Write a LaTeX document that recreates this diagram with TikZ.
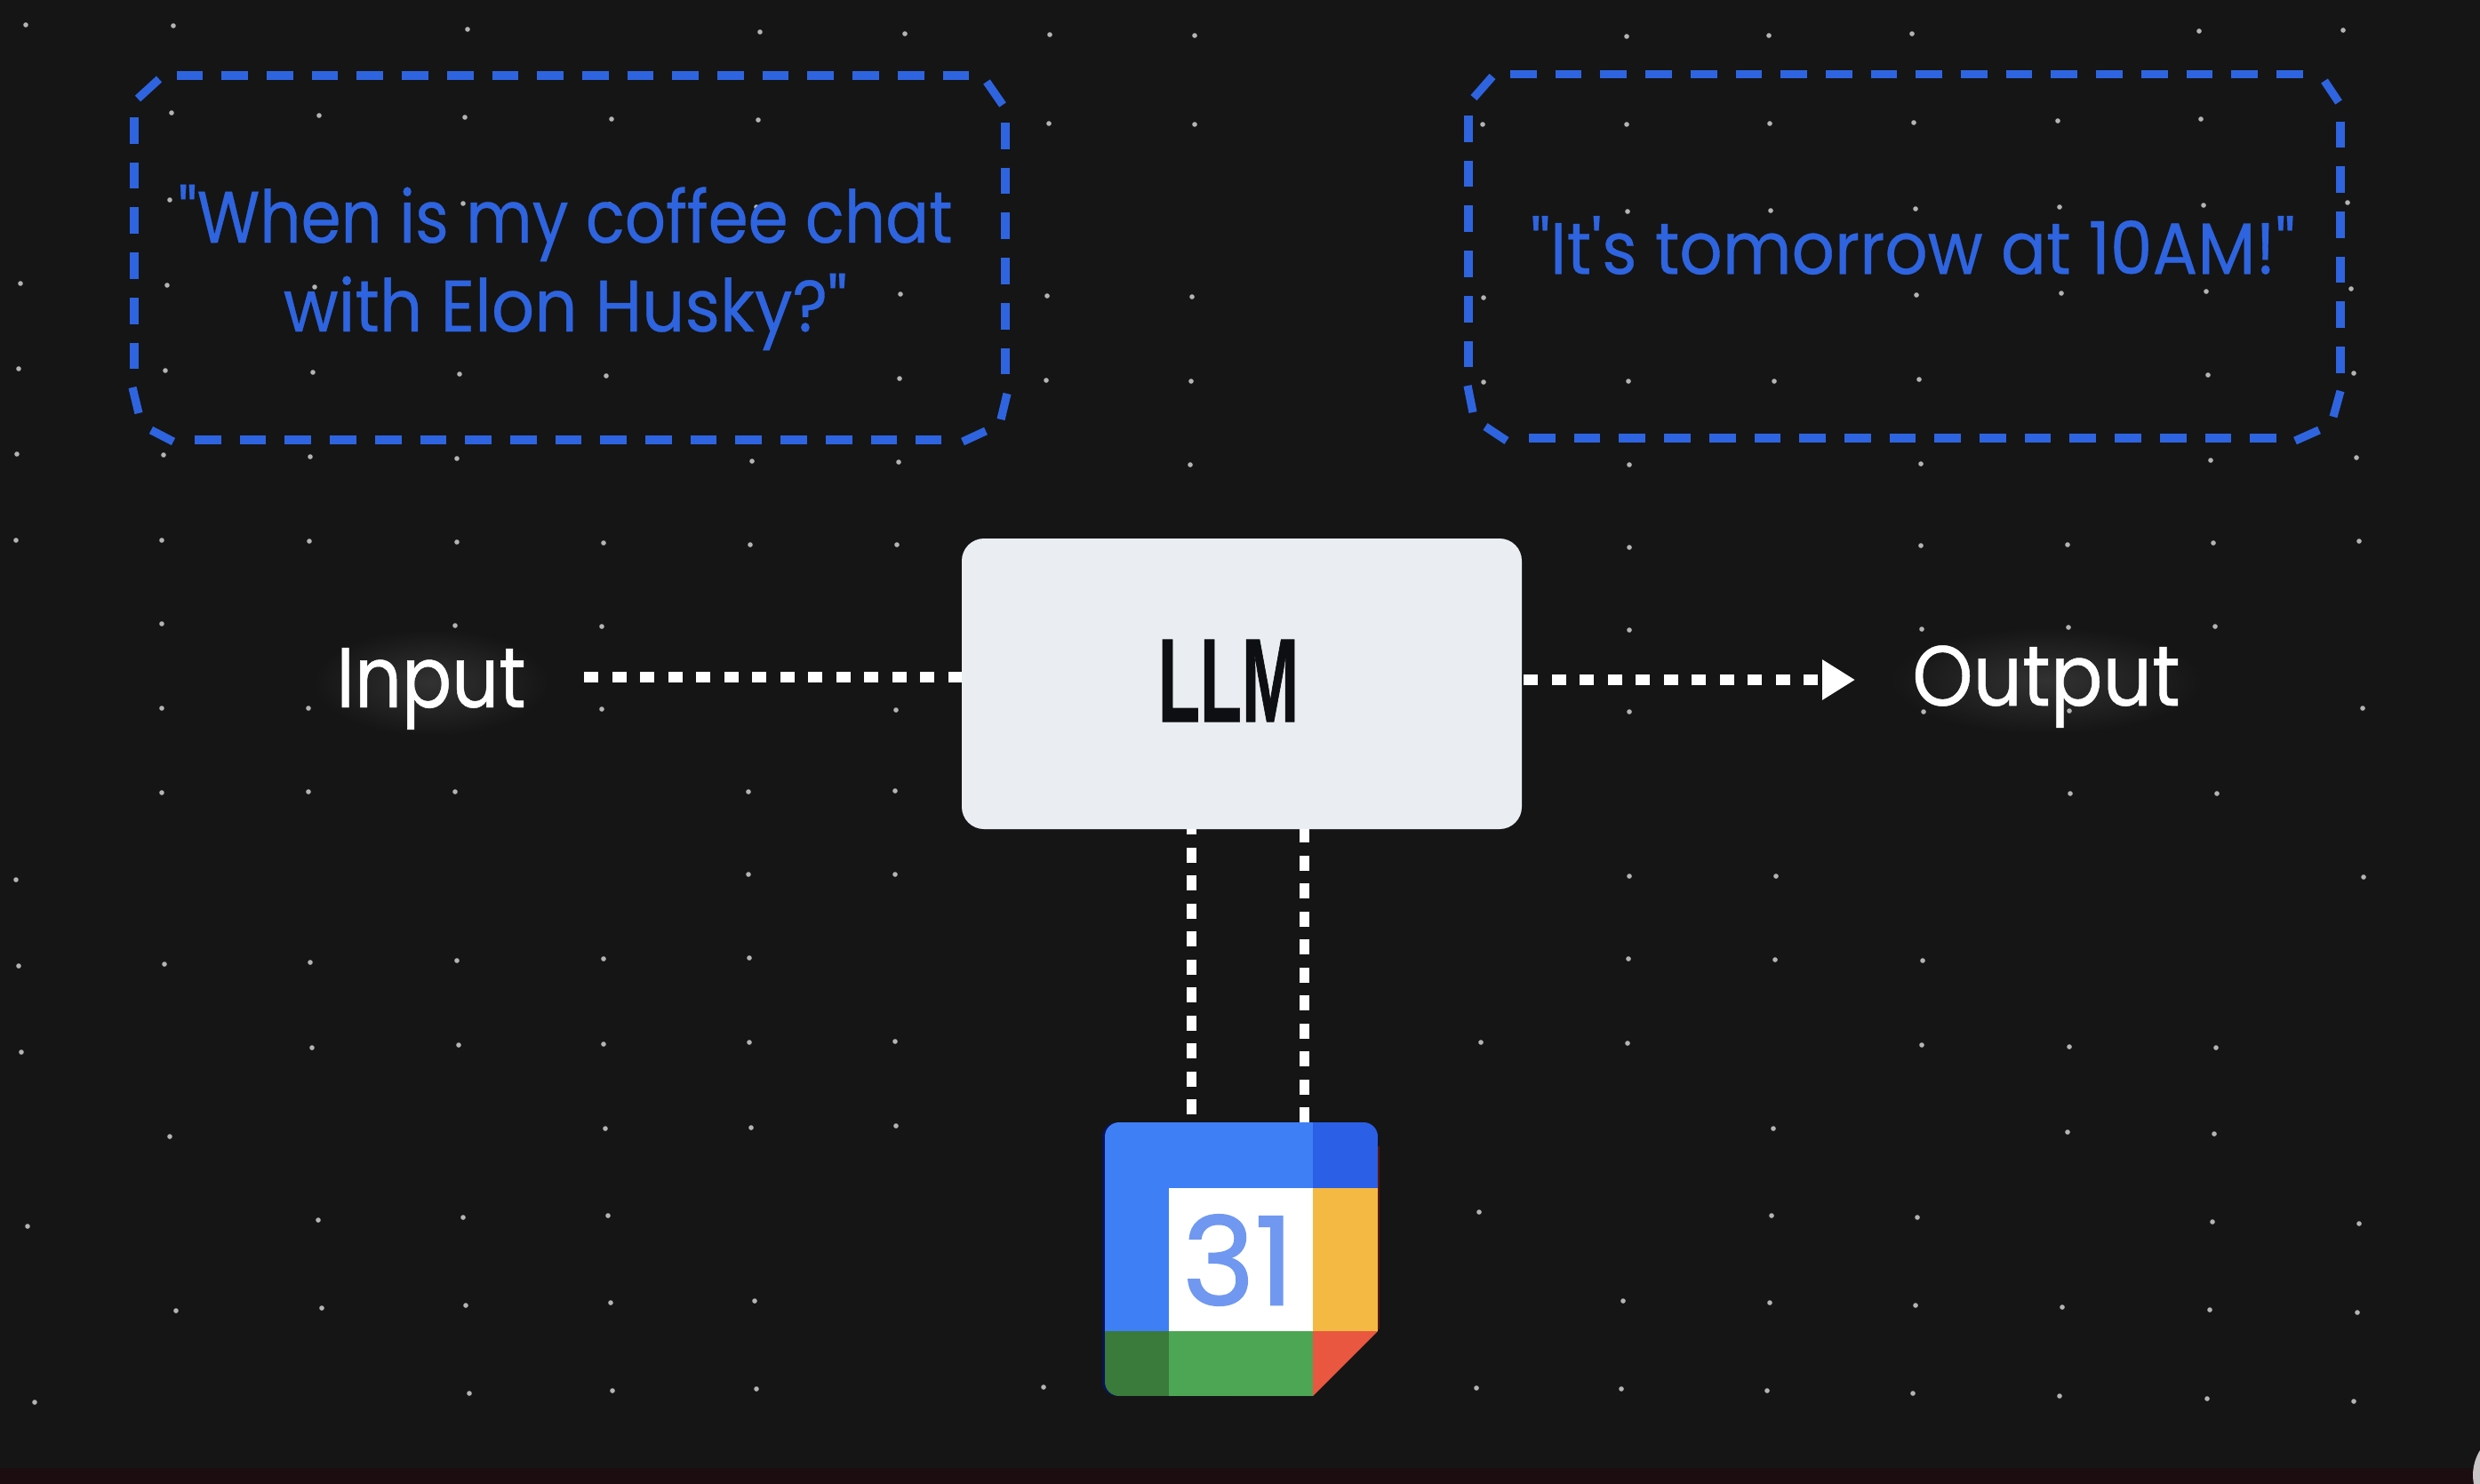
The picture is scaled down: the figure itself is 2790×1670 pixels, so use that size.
\documentclass[tikz,border=0pt]{standalone}
\usepackage{fontspec}
\usepackage{graphicx}
\usetikzlibrary{arrows.meta,calc}
\setmainfont{Poppins}[Ligatures=TeXOff]
\newfontfamily\speechfont{Poppins}[FakeStretch=0.883,FakeBold=0.4,Ligatures=TeXOff]
\newfontfamily\answerfont{Poppins}[FakeStretch=0.922,FakeBold=0.4,Ligatures=TeXOff]
\newfontfamily\labelfont{Poppins}[FakeStretch=0.865,FakeBold=0.5,Ligatures=TeXOff]
\newfontfamily\outputfont{Poppins}[FakeStretch=0.905,FakeBold=0.5,Ligatures=TeXOff]
\newfontfamily\numfont{Poppins}[FakeBold=1.3]
\newfontfamily\llmfont{Liberation Sans}[FakeBold=0.8]
\definecolor{bg}{HTML}{151515}
\definecolor{strip}{HTML}{1C0E10}
\definecolor{stardot}{HTML}{B4B4B4}
\definecolor{gblue}{HTML}{3F7FF6}
\definecolor{gbluedark}{HTML}{2A5FE6}
\definecolor{gyellow}{HTML}{F4B942}
\definecolor{ggreen}{HTML}{4DA653}
\definecolor{ggreendark}{HTML}{3A7A3A}
\definecolor{gred}{HTML}{EA5740}
\definecolor{numblue}{HTML}{7098F0}
\definecolor{dashblue}{HTML}{2E64DF}
\definecolor{llmfill}{HTML}{EAEEF2}
\definecolor{llmink}{HTML}{0D0F12}
\definecolor{halo}{HTML}{323232}
\definecolor{cornerdisc}{HTML}{C9C5C7}
\definecolor{fringeblue}{HTML}{0A145A}
\definecolor{fringered}{HTML}{5A160C}
\tikzset{
  x=0.5pt,y=-0.5pt,
  speechcorner/.style={draw=dashblue,line width=4.6pt},
  speechside/.style={speechcorner,dash pattern=on 14.85pt off 10.5pt},
  speechtext/.style={text=dashblue,font=\speechfont\fontsize{41pt}{50pt}\selectfont,align=center,inner sep=0pt},
  flowtext/.style={text=white,font=\labelfont\fontsize{48pt}{58pt}\selectfont,inner sep=0pt,anchor=base},
  flow/.style={draw=white,line width=6.2pt,dash pattern=on 8pt off 7.75pt},
  vflow/.style={draw=white,line width=5.5pt,dash pattern=on 8.5pt off 7.25pt},
}
\begin{document}
\begin{tikzpicture}
\useasboundingbox (0,0) rectangle (2790,1670);
\clip (0,0) rectangle (2790,1670);
\fill[bg] (0,0) rectangle (2790,1670);
\fill[strip] (0,1652) rectangle (2790,1670);
\fill[cornerdisc] (2835,1660) circle [radius=26.5pt];
% glow behind the plain labels
\shade[inner color=halo,outer color=bg] (485,768) ellipse [x radius=66pt,y radius=30pt];
\shade[inner color=halo,outer color=bg] (2302,766) ellipse [x radius=88pt,y radius=30pt];
% background stars
\foreach \px/\py in {
29/28,195/29,526/33,855/36,1018/38,193/127,359/130,523/132,688/134,853/135,
191/225,521/229,686/230,851/233,23/319,188/321,354/323,1013/331,21/415,186/417,352/419,517/421,682/423,1012/426,
19/511,184/512,349/514,514/516,846/519,1011/520,
1181/39,1344/40,1830/41,1990/40,2151/38,2474/35,2636/34,1180/139,1344/140,1668/140,1830/140,1991/139,2153/138,2315/136,2476/134,
1831/238,1992/237,2155/235,2317/233,2479/231,2641/228,1178/333,1341/334,1669/335,2156/332,2319/330,2482/328,2645/325,
1177/428,1340/429,1669/430,1832/429,1996/429,2159/427,2484/422,2648/420,1339/523,1833/523,2161/522,2487/518,2651/515,
18/608,182/608,348/609,514/610,679/611,844/613,1009/613,182/702,512/704,677/705,182/797,347/797,677/798,1008/799,
182/892,347/891,512/891,842/891,1007/890,18/990,842/984,1007/984,21/1087,185/1085,349/1083,514/1081,679/1079,843/1078,
24/1184,351/1179,516/1176,679/1175,843/1173,1007/1172,191/1279,681/1270,845/1269,1008/1267,
31/1380,358/1373,521/1370,684/1368,198/1475,362/1472,524/1469,687/1466,849/1464,39/1578,528/1568,689/1565,851/1563,1174/1561,
1833/616,2161/614,2326/613,2490/611,2654/609,1833/709,2162/708,2327/706,2492/705,1833/801,2164/801,2328/800,2658/797,
2329/893,2494/893,1833/986,1998/986,2659/987,1832/1079,1997/1080,2163/1081,
1666/1173,1831/1174,2162/1176,2328/1178,2493/1179,1995/1270,2326/1274,2491/1276,1664/1364,1993/1368,2157/1370,2489/1375,2654/1377,
1826/1464,1991/1466,2155/1469,2320/1471,2486/1474,2652/1477,1661/1562,1824/1563,1988/1565,2152/1568,2317/1571,2483/1574,2648/1577}
  {\fill[stardot] (\px,\py) circle [radius=1.4pt];}
% dashed speech boxes: sides
\foreach \ax/\ay/\bx/\by in {
  198.6/85/1091/85, 1131/138/1131/421, 219/495/1059/495, 151/132/151/415,
  1699/83.5/2591/83.5, 2633/136.6/2633/420, 1720/493/2561/493, 1652/130/1652/413}
  {\draw[speechside] (\ax,\ay) -- (\bx,\by);}
% dashed speech boxes: corner dashes
\foreach \ax/\ay/\bx/\by in {
  1110/92/1128/118, 1133/443/1126/472, 1109/485/1083/497, 170/484/195/497, 149/436/156/465, 155/111/179/89,
  2615/91/2631/115, 2633/440/2625/469, 2609/484/2582/496, 1671/480/1695/496, 1651/434/1657/464, 1658/110/1679/86}
  {\draw[speechcorner] (\ax,\ay) -- (\bx,\by);}
\node[speechtext] (question) at (636,301) {"When is my coffee chat\\{\answerfont with Elon Husky?"}};
\node[speechtext,font=\answerfont\fontsize{41pt}{50pt}\selectfont] (answer) at (2152,276) {"It's tomorrow at 10AM!"};
% main box
\node[rectangle,fill=llmfill,rounded corners=12.5pt,minimum width=315pt,minimum height=163.5pt,inner sep=0pt,text=llmink,font=\llmfont\bfseries\fontsize{67pt}{68pt}\selectfont] (llm) at (1397,769.5) {\raisebox{3.5pt}{\scalebox{0.575}[1]{LLM}}\kern15pt};
\node[flowtext] (input) at (485,796) {Input};
\node[flowtext,font=\outputfont\fontsize{48pt}{58pt}\selectfont] (output) at (2302,794) {Output};
% calendar
\node[rectangle,minimum width=153.5pt,minimum height=154pt,inner sep=0pt] (cal) at (1396.5,1417) {};
\fill[fringeblue,rounded corners=8pt] (1240,1263) rectangle (1400,1571);
\fill[fringered] (1400,1290) rectangle (1552,1496);
\begin{scope}
  \clip (1400,1263) [rounded corners=8pt] -- (1550,1263) -- (1550,1450) [sharp corners] -- (1550,1498) -- (1477,1571) -- (1450,1571) [rounded corners=8pt] -- (1243,1571) -- (1243,1263) -- cycle;
  \fill[gblue] (1243,1263) rectangle (1477,1498);
  \fill[gbluedark] (1477,1263) rectangle (1550,1337);
  \fill[gyellow] (1477,1337) rectangle (1550,1498);
  \fill[ggreendark] (1243,1498) rectangle (1315,1571);
  \fill[ggreen] (1315,1498) rectangle (1477,1571);
  \fill[gred] (1477,1498) rectangle (1550,1571);
  \fill[white] (1315,1337) rectangle (1477,1498);
\end{scope}
\node[text=numblue,font=\numfont\fontsize{69pt}{70pt}\selectfont,inner sep=0pt] (date) at (1393,1418) {31};
% connectors
\coordinate (instart) at (657,762);
\coordinate (outend) at (2087,765);
\coordinate (toolA) at (1340,1000);
\coordinate (toolB) at (1467,1000);
\draw[flow] (instart) -- (instart -| llm.west);
\draw[flow,dash phase=-1pt,-{Triangle[length=18.5pt,width=21.5pt,fill=white]}] (outend -| llm.east) -- (outend);
\draw[vflow,dash phase=5.5pt] (toolA |- llm.south) -- (toolA |- cal.north);
\draw[vflow,dash phase=1pt] (toolB |- llm.south) -- (toolB |- cal.north);
\end{tikzpicture}
\end{document}
